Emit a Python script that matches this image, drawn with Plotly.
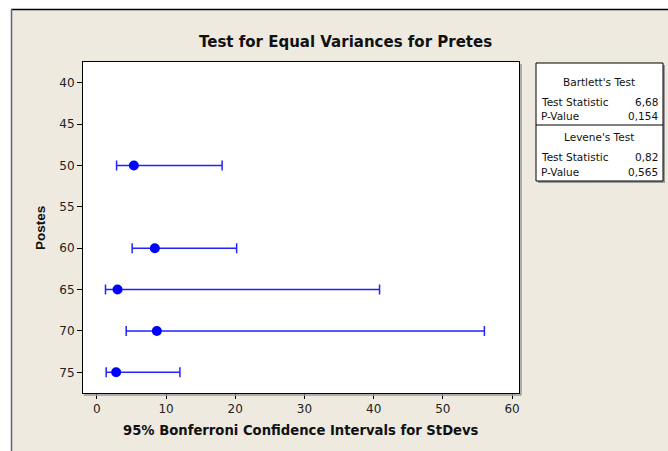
import plotly.graph_objects as go

# ---- data ----
postes = [50, 60, 65, 70, 75]
stdev_est = [5.35, 8.38, 2.99, 8.67, 2.79]
ci_lower = [2.85, 5.10, 1.25, 4.24, 1.35]
ci_upper = [18.10, 20.20, 40.85, 56.00, 12.00]
y_ticks = [40, 45, 50, 55, 60, 65, 70, 75]
x_ticks = [0, 10, 20, 30, 40, 50, 60]

bartlett_stat = "6,68"
bartlett_p = "0,154"
levene_stat = "0,82"
levene_p = "0,565"

W, H = 668, 451
L, R, T, B = 83, 519, 62, 393  # plot area in pixels
BEIGE = "#EEEAE0"


def px(x):
    return (x - L) / (R - L)


def py(y):
    return (B - y) / (B - T)


err_plus = [u - e for u, e in zip(ci_upper, stdev_est)]
err_minus = [e - l for e, l in zip(stdev_est, ci_lower)]

fig = go.Figure()
fig.add_trace(go.Scatter(
    x=stdev_est, y=postes, mode="markers",
    marker=dict(color="#0000FF", size=10),
    error_x=dict(type="data", symmetric=False, array=err_plus,
                 arrayminus=err_minus, color="#2222FF", thickness=1.5, width=5),
    showlegend=False, hoverinfo="skip",
))

shapes = [
    # white margins outside the frame
    dict(type="rect", xref="paper", yref="paper", x0=px(0), x1=px(W), y0=py(0), y1=py(9),
         fillcolor="white", line=dict(width=0), layer="below"),
    dict(type="rect", xref="paper", yref="paper", x0=px(0), x1=px(11), y0=py(0), y1=py(H),
         fillcolor="white", line=dict(width=0), layer="below"),
    # frame lines
    dict(type="line", xref="paper", yref="paper", x0=px(11), x1=px(W), y0=py(9.5), y1=py(9.5),
         line=dict(color="black", width=1.5)),
    dict(type="line", xref="paper", yref="paper", x0=px(11.5), x1=px(11.5), y0=py(9), y1=py(H),
         line=dict(color="#666666", width=1.5)),
    # plot shadow
    dict(type="line", xref="paper", yref="paper", x0=px(84), x1=px(521), y0=py(395), y1=py(395),
         line=dict(color="#999999", width=1.5)),
    dict(type="line", xref="paper", yref="paper", x0=px(521), x1=px(521), y0=py(64), y1=py(395),
         line=dict(color="#999999", width=1.5)),
    # table box
    dict(type="rect", xref="paper", yref="paper", x0=px(538), x1=px(665), y0=py(65), y1=py(183),
         fillcolor="#999999", line=dict(width=0)),
    dict(type="rect", xref="paper", yref="paper", x0=px(536), x1=px(663), y0=py(63), y1=py(181),
         fillcolor="white", line=dict(color="black", width=1)),
    dict(type="line", xref="paper", yref="paper", x0=px(536), x1=px(663), y0=py(125), y1=py(125),
         line=dict(color="black", width=1)),
]

TF = dict(family="DejaVu Sans, sans-serif", size=10.5, color="#111111")
annotations = []


def ann(text, x, y, xanchor="center", font=TF, **kw):
    annotations.append(dict(text=text, x=px(x), y=py(y), xref="paper", yref="paper",
                            xanchor=xanchor, yanchor="middle", showarrow=False, font=font, **kw))


ann("Bartlett's Test", 599, 82)
ann("Test Statistic", 539, 102, "left")
ann(bartlett_stat, 660, 102, "right")
ann("P-Value", 539, 116, "left")
ann(bartlett_p, 660, 116, "right")
ann("Levene's Test", 599, 137)
ann("Test Statistic", 539, 157, "left")
ann(levene_stat, 660, 157, "right")
ann("P-Value", 539, 172, "left")
ann(levene_p, 660, 172, "right")

BF = "DejaVu Sans, sans-serif"
ann("<b>Test for Equal Variances for Pretes</b>", 345, 42,
    font=dict(family=BF, size=15, color="#111111"))
ann("<b>95% Bonferroni Confidence Intervals for StDevs</b>", 301, 430,
    font=dict(family=BF, size=13.2, color="#111111"))
ann("<b>Postes</b>", 40, 228,
    font=dict(family="Liberation Sans, Arial, sans-serif", size=13.5, color="#111111"),
    textangle=-90)

axis_font = dict(family="DejaVu Sans, sans-serif", size=12, color="#222222")

fig.update_layout(
    width=W, height=H,
    margin=dict(l=L, r=W - R, t=T, b=H - B, pad=0),
    paper_bgcolor=BEIGE, plot_bgcolor="white",
    shapes=shapes, annotations=annotations,
    xaxis=dict(range=[-2.0, 61.0], tickvals=x_ticks, ticks="outside", ticklen=5,
               tickcolor="black", showgrid=False, zeroline=False, showline=True,
               linecolor="black", linewidth=1, mirror=True, tickfont=axis_font),
    yaxis=dict(range=[77.5, 37.5], tickvals=y_ticks, ticks="outside", ticklen=5,
               tickcolor="black", showgrid=False, zeroline=False, showline=True,
               linecolor="black", linewidth=1, mirror=True, tickfont=axis_font),
)

fig.write_html(
    "out.html",
    config={"displayModeBar": False},
    post_script="document.body.style.margin='0';document.body.style.overflow='hidden';",
)
